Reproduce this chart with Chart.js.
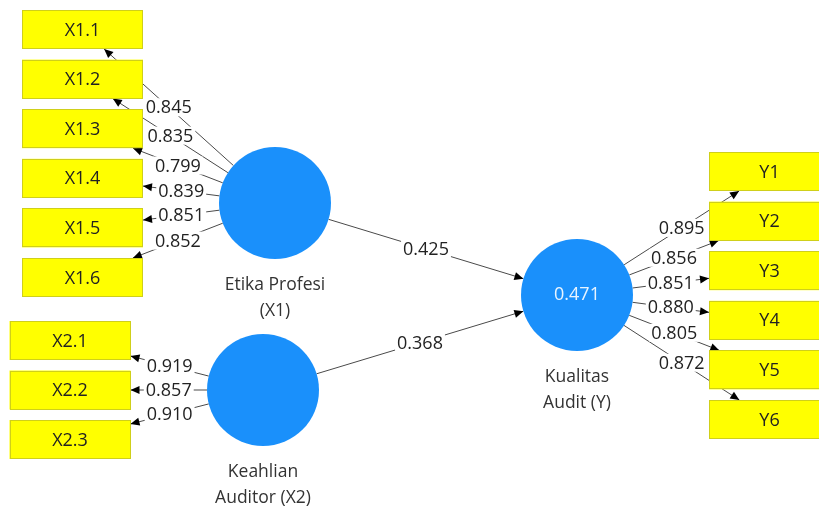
<!DOCTYPE html>
<html>
<head>
<meta charset="utf-8">
<style>
  html, body { margin: 0; padding: 0; background: #fff; }
  #wrap { width: 819px; height: 511px; }
</style>
<script src="https://cdn.jsdelivr.net/npm/chart.js@4.4.0/dist/chart.umd.min.js"></script>
</head>
<body>
<div id="wrap"><canvas id="c"></canvas></div>
<script>
// measurement model
const constructs = ["X1", "X2", "Y"];
const constructNames = [["Etika Profesi", "(X1)"], ["Keahlian", "Auditor (X2)"], ["Kualitas", "Audit (Y)"]];
const indicatorsX1 = ["X1.1", "X1.2", "X1.3", "X1.4", "X1.5", "X1.6"];
const loadingsX1 = [0.845, 0.835, 0.799, 0.839, 0.851, 0.852];
const indicatorsX2 = ["X2.1", "X2.2", "X2.3"];
const loadingsX2 = [0.919, 0.857, 0.910];
const indicatorsY = ["Y1", "Y2", "Y3", "Y4", "Y5", "Y6"];
const loadingsY = [0.895, 0.856, 0.851, 0.880, 0.805, 0.872];

// structural model
const pathFrom = ["X1", "X2"];
const pathTo = ["Y", "Y"];
const pathCoef = [0.425, 0.368];
const rSquare = { Y: 0.471 };

// layout (diagram units = px of the original picture)
const nodeX = [275, 263, 577];
const nodeY = [203, 390, 295];
const blockX = [82.5, 70, 769.5];
const blockTop = [29.5, 340.5, 171.5];
const blockStep = [49.6, 49.5, 49.6];
const circleR = 56, boxW = 121, boxH = 39;

const blocks = [
  { names: indicatorsX1, values: loadingsX1 },
  { names: indicatorsX2, values: loadingsX2 },
  { names: indicatorsY, values: loadingsY }
];

const FONT = "'Open Sans', 'Noto Sans', sans-serif";

function px(chart, x, y) {
  return [chart.scales.x.getPixelForValue(x), chart.scales.y.getPixelForValue(y)];
}

function arrowHead(ctx, x1, y1, x2, y2) {
  const a = Math.atan2(y2 - y1, x2 - x1);
  const len = 9, w = 4;
  ctx.beginPath();
  ctx.moveTo(x2, y2);
  ctx.lineTo(x2 - len * Math.cos(a) + w * Math.sin(a), y2 - len * Math.sin(a) - w * Math.cos(a));
  ctx.lineTo(x2 - len * Math.cos(a) - w * Math.sin(a), y2 - len * Math.sin(a) + w * Math.cos(a));
  ctx.closePath();
  ctx.fillStyle = "#000";
  ctx.fill();
}

let edgeLabels = [];

function drawEdge(ctx, s, e, label) {
  ctx.beginPath();
  ctx.moveTo(s[0], s[1]);
  ctx.lineTo(e[0], e[1]);
  ctx.strokeStyle = "#4a4a4a";
  ctx.lineWidth = 1;
  ctx.stroke();
  arrowHead(ctx, s[0], s[1], e[0], e[1]);
  edgeLabels.push({ x: (s[0] + e[0]) / 2, y: (s[1] + e[1]) / 2, text: label });
}

const diagram = {
  id: "diagram",
  beforeDatasetsDraw(chart) {
    const ctx = chart.ctx;
    const r = circleR;
    edgeLabels = [];
    ctx.save();
    // loadings
    blocks.forEach((b, k) => {
      const c = px(chart, nodeX[k], nodeY[k]);
      b.names.forEach((n, i) => {
        const t = px(chart, blockX[k], blockTop[k] + i * blockStep[k]);
        const dx = t[0] - c[0], dy = t[1] - c[1];
        const L = Math.hypot(dx, dy);
        const s = [c[0] + dx / L * r, c[1] + dy / L * r];
        const f = Math.min(boxW / 2 / Math.abs(dx), boxH / 2 / Math.abs(dy));
        const e = [t[0] - dx * f, t[1] - dy * f];
        drawEdge(ctx, s, e, b.values[i].toFixed(3));
      });
    });
    // paths
    pathFrom.forEach((from, i) => {
      const a = constructs.indexOf(from), b = constructs.indexOf(pathTo[i]);
      const p = px(chart, nodeX[a], nodeY[a]), q = px(chart, nodeX[b], nodeY[b]);
      const dx = q[0] - p[0], dy = q[1] - p[1], L = Math.hypot(dx, dy);
      drawEdge(ctx, [p[0] + dx / L * r, p[1] + dy / L * r], [q[0] - dx / L * r, q[1] - dy / L * r], pathCoef[i].toFixed(3));
    });
    ctx.restore();
  },
  afterDatasetsDraw(chart) {
    const ctx = chart.ctx;
    const r = circleR;
    ctx.save();
    ctx.textAlign = "center";
    ctx.textBaseline = "middle";
    // indicator boxes
    blocks.forEach((b, k) => {
      b.names.forEach((n, i) => {
        const t = px(chart, blockX[k], blockTop[k] + i * blockStep[k]);
        ctx.fillStyle = "#ffff00";
        ctx.fillRect(t[0] - boxW / 2, t[1] - boxH / 2, boxW, boxH);
        ctx.strokeStyle = "#cfcf1a";
        ctx.lineWidth = 1;
        ctx.strokeRect(Math.round(t[0] - boxW / 2) + 0.5, Math.round(t[1] - boxH / 2) + 0.5, boxW - 1, boxH - 1);
        ctx.fillStyle = "#222";
        ctx.font = "18px " + FONT;
        ctx.fillText(n, t[0], t[1] + 1);
      });
    });
    // construct names and R²
    constructs.forEach((c, k) => {
      const p = px(chart, nodeX[k], nodeY[k]);
      ctx.fillStyle = "#333";
      ctx.font = "17.5px " + FONT;
      ctx.fillText(constructNames[k][0], p[0], p[1] + r + 26);
      ctx.fillText(constructNames[k][1], p[0], p[1] + r + 52);
      if (rSquare[c] !== undefined) {
        ctx.fillStyle = "#e8f4ff";
        ctx.font = "18px " + FONT;
        ctx.fillText(rSquare[c].toFixed(3), p[0], p[1]);
      }
    });
    // edge labels
    ctx.font = "18px " + FONT;
    edgeLabels.forEach(l => {
      const w = ctx.measureText(l.text).width;
      ctx.fillStyle = "#fff";
      ctx.fillRect(l.x - w / 2 - 2, l.y - 9, w + 4, 18);
      ctx.fillStyle = "#222";
      ctx.fillText(l.text, l.x, l.y + 1);
    });
    ctx.restore();
  }
};

new Chart(document.getElementById("c"), {
  type: "scatter",
  data: {
    datasets: [{
      data: constructs.map((c, k) => ({ x: nodeX[k], y: nodeY[k] })),
      pointRadius: circleR,
      pointHoverRadius: circleR,
      pointBorderWidth: 0,
      backgroundColor: "#1a90fb",
      borderColor: "#1a90fb",
      clip: false
    }]
  },
  options: {
    responsive: true,
    maintainAspectRatio: false,
    animation: false,
    layout: { padding: 0, autoPadding: false },
    plugins: { legend: { display: false }, tooltip: { enabled: false } },
    events: [],
    scales: {
      x: { type: "linear", min: 0, max: 819, display: false },
      y: { type: "linear", min: 0, max: 511, reverse: true, display: false }
    }
  },
  plugins: [diagram]
});
</script>
</body>
</html>
